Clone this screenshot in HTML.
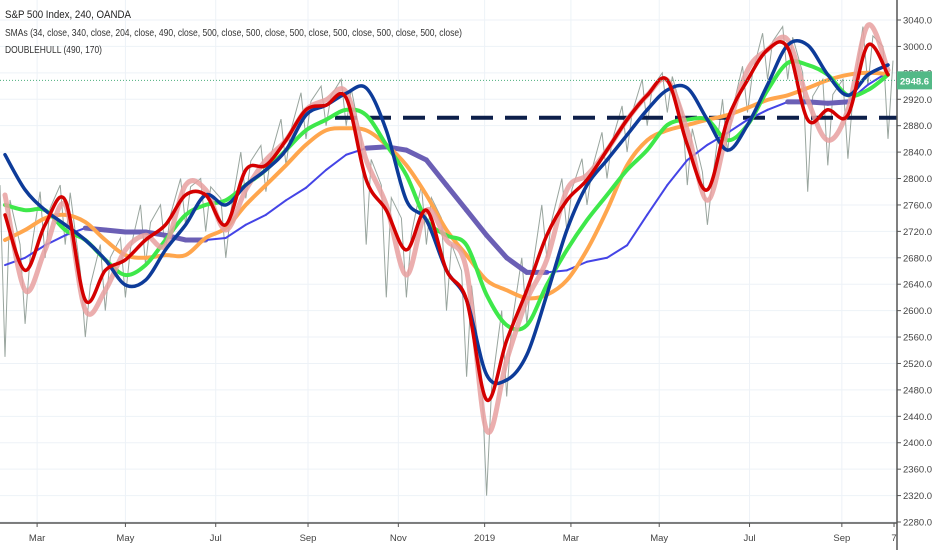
<!DOCTYPE html>
<html><head><meta charset="utf-8"><style>
body{margin:0;background:#fff;}
svg{display:block;font-family:"Liberation Sans",sans-serif;}
</style></head><body>
<svg id="chart" width="932" height="550" viewBox="0 0 932 550" xmlns="http://www.w3.org/2000/svg">
<rect width="932" height="550" fill="#fff"/>
<g id="grid"></g>
<g id="series"></g>
<g id="axes"></g>
<text x="5" y="18" font-size="11" fill="#222" textLength="126" lengthAdjust="spacingAndGlyphs">S&amp;P 500 Index, 240, OANDA</text>
<text x="5" y="36" font-size="10.5" fill="#333" textLength="457" lengthAdjust="spacingAndGlyphs">SMAs (34, close, 340, close, 204, close, 490, close, 500, close, 500, close, 500, close, 500, close, 500, close, 500, close)</text>
<text x="5" y="53" font-size="10.5" fill="#333" textLength="97" lengthAdjust="spacingAndGlyphs">DOUBLEHULL (490, 170)</text>
</svg>
<script>
const priceTicks=[3040,3000,2960,2920,2880,2840,2800,2760,2720,2680,2640,2600,2560,2520,2480,2440,2400,2360,2320,2280];
const monthLabels=["Mar","May","Jul","Sep","Nov","2019","Mar","May","Jul","Sep","7"];
const monthIdx=[1.6,6,10.5,15.1,19.6,23.9,28.2,32.6,37.1,41.7,44.3];
const lastPrice=2948.6;
const hullLevel=2892;
const redHull=[2745,2661,2730,2767,2616,2661,2677,2707,2730,2775,2775,2730,2813,2820,2858,2904,2911,2922,2798,2752,2692,2752,2661,2616,2465,2555,2631,2714,2767,2798,2843,2889,2926,2949,2851,2783,2889,2949,2995,2998,2889,2904,2896,3002,2957];
const pinkHull=[2775,2631,2692,2760,2601,2631,2692,2714,2699,2790,2783,2722,2783,2828,2858,2904,2919,2931,2828,2760,2654,2752,2707,2661,2419,2525,2616,2677,2783,2805,2843,2889,2926,2949,2873,2767,2873,2964,2995,3010,2919,2858,2904,3032,2964];
const navySma=[2836,2783,2752,2730,2707,2677,2639,2646,2692,2730,2775,2760,2790,2813,2843,2896,2911,2929,2937,2873,2767,2737,2661,2616,2503,2495,2533,2624,2722,2790,2828,2866,2904,2934,2937,2889,2843,2881,2942,3002,3002,2957,2926,2957,2972];
const greenSma=[2760,2752,2752,2722,2707,2677,2654,2669,2707,2745,2760,2767,2790,2813,2843,2873,2889,2904,2896,2851,2805,2737,2714,2699,2624,2578,2578,2639,2692,2737,2775,2813,2843,2881,2889,2889,2858,2881,2934,2975,2972,2957,2926,2934,2957];
const orangeSma=[2707,2722,2740,2745,2734,2707,2684,2680,2684,2684,2710,2725,2760,2790,2820,2851,2873,2876,2873,2851,2820,2775,2722,2684,2646,2631,2619,2624,2646,2692,2752,2820,2858,2873,2881,2889,2896,2907,2919,2926,2937,2949,2957,2960,2958];
const slowSma=[2669,2680,2699,2714,2725,2722,2719,2719,2714,2707,2707,2710,2730,2745,2767,2786,2813,2836,2846,2848,2843,2828,2790,2752,2714,2680,2658,2658,2661,2674,2680,2699,2745,2790,2828,2851,2869,2889,2904,2916,2916,2914,2916,2942,2961];
const highs=[2790,2700,2780,2790,2660,2700,2710,2760,2760,2800,2800,2770,2840,2850,2890,2930,2940,2950,2860,2790,2740,2790,2740,2660,2500,2600,2680,2760,2800,2830,2870,2910,2950,2960,2900,2810,2920,2970,3020,3030,2960,2950,2950,3030,3000];
const lows=[2530,2580,2680,2700,2560,2600,2620,2670,2690,2730,2720,2680,2770,2780,2820,2860,2880,2880,2700,2620,2620,2700,2600,2500,2320,2470,2580,2680,2720,2760,2800,2840,2880,2900,2790,2730,2840,2900,2950,2950,2780,2820,2830,2940,2860];

const NS="http://www.w3.org/2000/svg";
const N=redHull.length;
const X0=5,X1=888,PLOT_R=897,AXIS_Y=523;
function xs(i){return X0+i*(X1-X0)/(N-1);}
function ys(p){return 20+(3040-p)*(502/760);}
function mk(tag,attrs,parent){const e=document.createElementNS(NS,tag);for(const k in attrs)e.setAttribute(k,attrs[k]);parent.appendChild(e);return e;}
const grid=document.getElementById('grid'),ser=document.getElementById('series'),axes=document.getElementById('axes');

priceTicks.forEach(p=>{
  const g=mk('line',{x1:0,x2:PLOT_R,y1:ys(p),y2:ys(p),stroke:'#edf2f7','stroke-width':1},grid);
  
  
  const t=mk('line',{x1:PLOT_R,x2:PLOT_R+4,y1:ys(p),y2:ys(p),stroke:'#555'},axes);
  
  
  const l=mk('text',{x:PLOT_R+6,y:ys(p)+3.5,'font-size':9.5,fill:'#444'},axes);
  l.textContent=p.toFixed(1);
  
  
});
monthLabels.forEach((m,i)=>{
  const x=xs(monthIdx[i]);
  if(i<monthLabels.length-1){
    const g=mk('line',{x1:x,x2:x,y1:0,y2:AXIS_Y,stroke:'#edf2f7'},grid);
    
    
  }
  const t=mk('line',{x1:x,x2:x,y1:AXIS_Y,y2:AXIS_Y+4,stroke:'#555'},axes);
  
  
  const l=mk('text',{x:x,y:AXIS_Y+18,'font-size':9.5,fill:'#444','text-anchor':'middle'},axes);
  l.textContent=m;
  
  
});
const ax1=mk('line',{x1:0,x2:PLOT_R,y1:AXIS_Y,y2:AXIS_Y,stroke:'#555','stroke-width':1.5},axes);


const ax2=mk('line',{x1:PLOT_R,x2:PLOT_R,y1:0,y2:550,stroke:'#555','stroke-width':1.5},axes);



function smoothPath(pts){
  let d='M'+pts[0][0].toFixed(1)+' '+pts[0][1].toFixed(1);
  for(let i=0;i<pts.length-1;i++){
    const p0=pts[Math.max(0,i-1)],p1=pts[i],p2=pts[i+1],p3=pts[Math.min(pts.length-1,i+2)];
    const c1x=p1[0]+(p2[0]-p0[0])/6,c1y=p1[1]+(p2[1]-p0[1])/6;
    const c2x=p2[0]-(p3[0]-p1[0])/6,c2y=p2[1]-(p3[1]-p1[1])/6;
    d+=' C'+c1x.toFixed(1)+' '+c1y.toFixed(1)+' '+c2x.toFixed(1)+' '+c2y.toFixed(1)+' '+p2[0].toFixed(1)+' '+p2[1].toFixed(1);
  }
  return d;
}
function line(arr,color,w,name,op){
  const pts=arr.map((v,i)=>[xs(i),ys(v)]);
  const p=mk('path',{d:smoothPath(pts),fill:'none',stroke:color,'stroke-width':w,'stroke-linejoin':'round','stroke-linecap':'round',opacity:op||1},ser);
  
  
}
// price wicks (zigzag high/low)
let d='';
for(let i=0;i<N;i++){
  const x=xs(i);
  d+=(i?'L':'M')+(x-5).toFixed(1)+' '+ys(highs[i]).toFixed(1)+' L'+x.toFixed(1)+' '+ys(lows[i]).toFixed(1)+' L'+(x+5).toFixed(1)+' '+ys((highs[i]+redHull[i])/2).toFixed(1)+' ';
}
const pr=mk('path',{d:d,fill:'none',stroke:'#7f8f86','stroke-width':1,opacity:0.8},ser);



// dashed hull level
const dl=mk('line',{x1:335,x2:PLOT_R,y1:ys(hullLevel),y2:ys(hullLevel),stroke:'#0d1f4a','stroke-width':4,'stroke-dasharray':'22 12'},ser);



// slow SMA: thin blue rising, thick purple falling
for(let i=0;i<N-1;i++){
  const falling=slowSma[i+1]<=slowSma[i]+2;
  const s=mk('line',{x1:xs(i),y1:ys(slowSma[i]),x2:xs(i+1),y2:ys(slowSma[i+1]),stroke:falling?'#6b5fb5':'#4444e6','stroke-width':falling?5:2,'stroke-linecap':'round'},ser);
  
  
}
line(orangeSma,'#ffa64d',4,'orange-sma');
line(greenSma,'#3ee84a',4,'green-sma');
line(pinkHull,'#e8a0a0',5,'pink-hull',0.85);
line(navySma,'#0d3b99',3.5,'navy-sma');
line(redHull,'#d40000',3.5,'red-hull');

// last price line + label
const lp=mk('line',{x1:0,x2:PLOT_R,y1:ys(lastPrice),y2:ys(lastPrice),stroke:'#4caf7d','stroke-width':1,'stroke-dasharray':'1 2'},ser);


const lb=mk('rect',{x:PLOT_R,y:ys(lastPrice)-9,width:35,height:18,fill:'#53b987'},axes);


const lt=mk('text',{x:PLOT_R+3,y:ys(lastPrice)+4,'font-size':9.5,fill:'#fff','font-weight':'bold'},axes);
lt.textContent=lastPrice.toFixed(1);


</script>
</body></html>
